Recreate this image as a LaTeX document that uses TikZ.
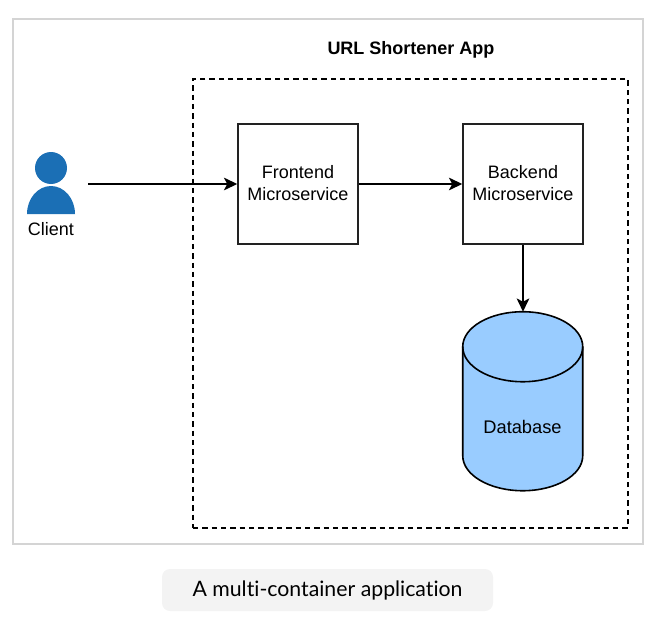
\documentclass[tikz,border=0pt]{standalone}
\usepackage{fontspec}
\setmainfont{Liberation Sans}
\newfontfamily\capfont[Ligatures=NoCommon]{Lato}
\usetikzlibrary{arrows.meta}
\definecolor{frameg}{HTML}{D4D4D4}
\definecolor{linek}{HTML}{222222}
\definecolor{dbfill}{HTML}{99CCFF}
\definecolor{userb}{HTML}{1B6FB5}
\definecolor{capbg}{HTML}{F3F3F3}
\tikzset{
  pxbox/.style={draw=linek,line width=1.5pt*0.75,fill=white,minimum width=90pt,minimum height=90pt,inner sep=0pt,align=center,font=\fontsize{13.5pt}{16.5pt}\selectfont},
  conn/.style={draw=black,line width=1.5pt*0.75,-{Stealth[length=10pt,width=9.5pt,inset=2.5pt]}},
  cyl/.style={draw=black,line width=1.2pt},
}
\begin{document}
\begin{tikzpicture}[x=0.75pt,y=-0.75pt]
\useasboundingbox (0,0) rectangle (657,617);
\node[draw=frameg,line width=1.5pt,minimum width=472.5pt,minimum height=393.75pt,inner sep=0pt] (frame) at (328,281.5) {};
\node[draw=black,line width=1.1pt,dash pattern=on 4pt off 3pt,minimum width=326.25pt,minimum height=336.75pt,inner sep=0pt] (group) at (410.5,303.5) {};
\node[font=\bfseries\fontsize{13.5pt}{16pt}\selectfont] (title) at (411,49.5) {URL Shortener App};
\node[pxbox] (fe) at (298,184) {\raisebox{1pt}{Frontend}\\\raisebox{1pt}{Microservice}};
\node[pxbox] (be) at (523,184) {\raisebox{1pt}{Backend}\\\raisebox{1pt}{Microservice}};
\node[minimum width=90pt,minimum height=134.25pt,inner sep=0pt] (db) at (523,401.5) {};
\path[fill=dbfill,cyl] (db.north west) ++(0,35) arc[start angle=180,end angle=360,x radius=60,y radius=35]
  -- ++(0,109) arc[start angle=0,end angle=180,x radius=60,y radius=35] -- cycle;
\draw[cyl] (db.north west) ++(0,35) arc[start angle=180,end angle=0,x radius=60,y radius=35];
\node[font=\fontsize{13.7pt}{16.5pt}\selectfont] (dblabel) at (522.5,427) {Database};
\fill[userb] (51,168) circle[radius=12pt];
\fill[userb] (27,214) arc[start angle=180,end angle=360,x radius=24,y radius=28] -- cycle;
\node[font=\fontsize{13.5pt}{16pt}\selectfont] (client) at (51,229) {Client};
\coordinate (start) at (88,184);
\draw[conn] (start) -- (fe.west);
\draw[conn] (fe.east) -- (be.west);
\draw[conn] (be.south) -- (db.north);
\node[fill=capbg,rounded corners=6pt,minimum width=248.25pt,minimum height=31.5pt,inner sep=0pt,font=\capfont\fontsize{15.95pt}{18pt}\selectfont] (caption) at (327.5,590) {\raisebox{-2pt}{A multi-container application}};
\end{tikzpicture}
\end{document}
